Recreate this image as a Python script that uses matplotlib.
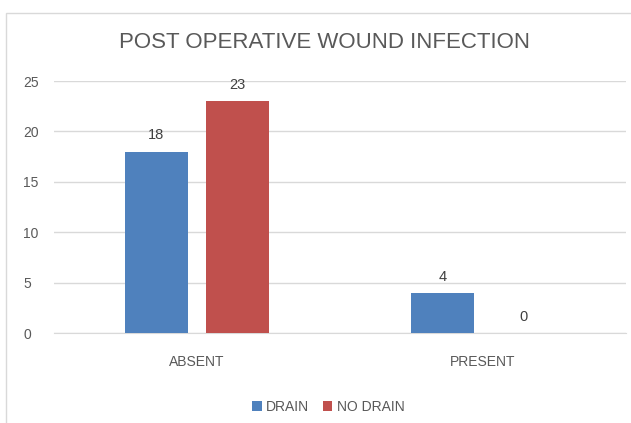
import numpy as np
import matplotlib
matplotlib.use("Agg")
import matplotlib.pyplot as plt
from matplotlib.patches import Rectangle

categories = ["ABSENT", "PRESENT"]
series = ["DRAIN", "NO DRAIN"]
drain = [18, 4]
no_drain = [23, 0]

plt.rcParams["font.family"] = ["Liberation Sans Narrow", "Liberation Sans", "DejaVu Sans"]
txt = "#595959"

fig = plt.figure(figsize=(6.31, 4.23), dpi=100)
# chart frame
fig.patches.append(Rectangle((6 / 631, -0.1), 1.2, 1 - 13 / 423 + 0.1, transform=fig.transFigure,
                             fill=False, edgecolor="#D9D9D9", lw=1))
ax = fig.add_axes([54 / 631, 1 - 333 / 423, 572 / 631, 252 / 423])

x = np.arange(len(categories))
w, off = 0.22, 0.142
b1 = ax.bar(x - off, drain, w, color="#4F81BD", label=series[0], zorder=3)
b2 = ax.bar(x + off, no_drain, w, color="#C0504D", label=series[1], zorder=3)
for bars in (b1, b2):
    for r in bars:
        ax.text(r.get_x() + r.get_width() / 2, r.get_height() + 0.9, f"{int(r.get_height())}",
                ha="center", va="bottom", fontsize=10.5, color="#404040")

ax.set_xlim(-0.5, 1.5)
ax.set_ylim(0, 25)
ax.set_yticks(range(0, 26, 5))
ax.set_xticks(x)
ax.set_xticklabels(categories)
ax.yaxis.grid(True, color="#D9D9D9", lw=1, zorder=0)
ax.tick_params(length=0, labelsize=10, colors=txt)
ax.tick_params(axis="x", pad=16)
ax.tick_params(axis="y", pad=22)
for lbl in ax.get_yticklabels():
    lbl.set_horizontalalignment("left")
for s in ax.spines.values():
    s.set_visible(False)
ax.spines["bottom"].set_visible(True)
ax.spines["bottom"].set_color("#D9D9D9")

fig.text(0.515, 1 - 43 / 423, "POST OPERATIVE WOUND INFECTION", ha="center", va="center",
         fontsize=16, color=txt)
fig.legend(loc="center", bbox_to_anchor=(0.52, 1 - 407 / 423), ncol=2, frameon=False,
           fontsize=10, handlelength=0.7, handleheight=0.7, handletextpad=0.3,
           columnspacing=1.0, labelcolor=txt)

fig.savefig("out.png", dpi=100)
